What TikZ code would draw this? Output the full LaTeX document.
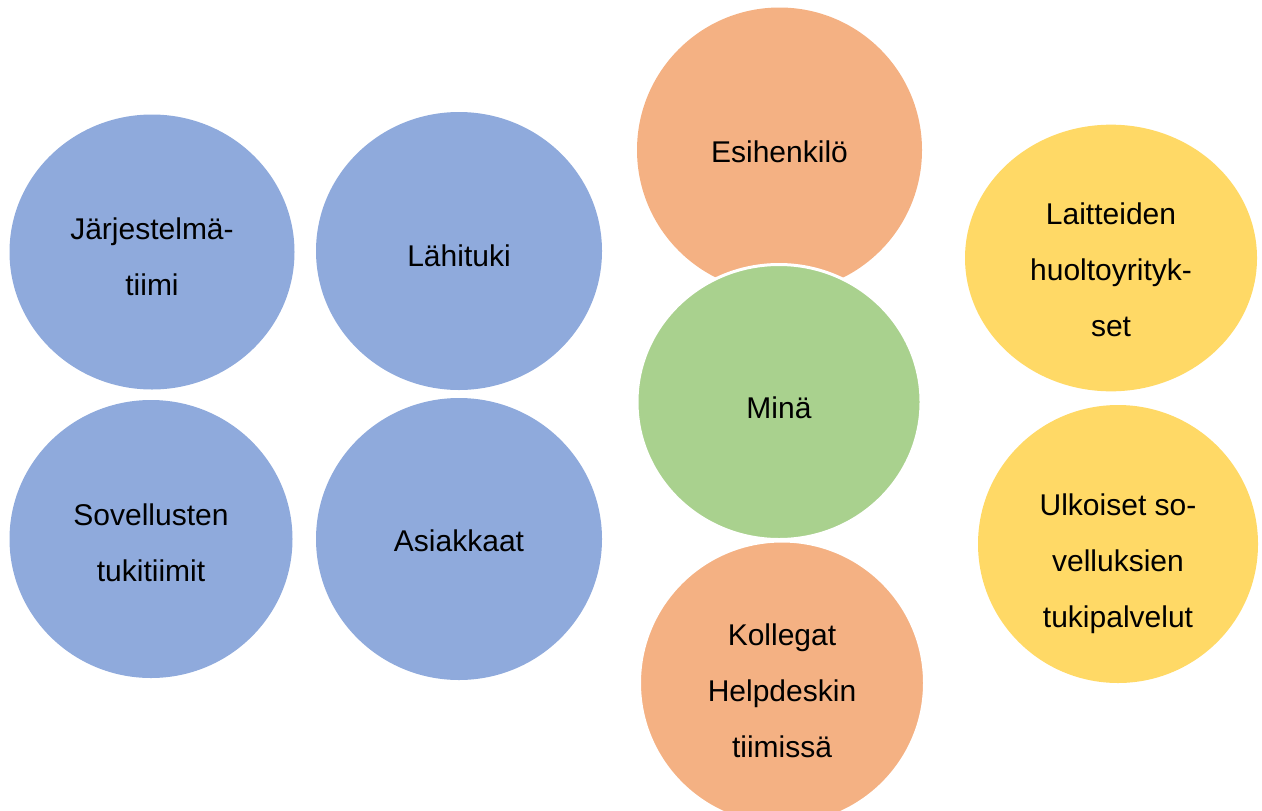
\documentclass[tikz,border=0pt]{standalone}
\usepackage{fontspec}
\setmainfont{Liberation Sans}
\usetikzlibrary{shapes.geometric}

\definecolor{blueball}{RGB}{143,170,220}
\definecolor{orangeball}{RGB}{244,177,131}
\definecolor{greenball}{RGB}{169,209,142}
\definecolor{yellowball}{RGB}{255,217,102}

\tikzset{
  every picture/.style={line width=0.75pt},
  ball/.style={ellipse, inner sep=0pt},
  cutball/.style={ball, draw=white, line width=2.25pt},
  balltext/.style={inner sep=0pt, align=center, text=black,
    font=\fontsize{22.5}{42}\selectfont}
}

\begin{document}
\begin{tikzpicture}[x=0.75pt,y=0.75pt,yscale=-1,xscale=1]
%set diagram area: 1262 x 810
\useasboundingbox (0,0) rectangle (1262,810);

%Blue circles
\node [ball, fill=blueball, minimum width=213.75pt, minimum height=206.25pt] (jarjestelma) at (152,252) {};
\node [ball, fill=blueball, minimum width=214.5pt, minimum height=208.5pt] (lahituki) at (459,251) {};
\node [ball, fill=blueball, minimum width=212.25pt, minimum height=208.5pt] (sovellusten) at (151,539) {};
\node [ball, fill=blueball, minimum width=214.5pt, minimum height=211.5pt] (asiakkaat) at (459,539) {};

%Middle column
\node [ball, fill=orangeball, minimum width=213.75pt, minimum height=213.75pt] (esihenkilo) at (779.5,150) {};
\node [cutball, fill=greenball, minimum width=213pt, minimum height=206.25pt] (mina) at (779,402) {};
\node [cutball, fill=orangeball, minimum width=213.75pt, minimum height=213pt] (kollegat) at (782,683) {};

%Yellow circles
\node [ball, fill=yellowball, minimum width=219pt, minimum height=200pt] (laitteiden) at (1111,258) {};
\node [ball, fill=yellowball, minimum width=210pt, minimum height=208.5pt] (ulkoiset) at (1118,544) {};

% Text Nodes
\node [balltext, yshift=-3.75pt] (jarjestelma-text) at (jarjestelma) {Järjestelmä-\\tiimi};
\node [balltext, yshift=-3.75pt] (lahituki-text) at (lahituki) {Lähituki};
\node [balltext, yshift=-3pt] (sovellusten-text) at (sovellusten) {Sovellusten\\tukitiimit};
\node [balltext, yshift=-1.5pt] (asiakkaat-text) at (asiakkaat) {Asiakkaat};
\node [balltext, yshift=-1.5pt] (esihenkilo-text) at (esihenkilo) {Esihenkilö};
\node [balltext, yshift=-4.5pt] (mina-text) at (mina) {Minä};
\node [balltext, yshift=-6pt] (kollegat-text) at (kollegat) {Kollegat\\Helpdeskin\\tiimissä};
\node [balltext, yshift=-9pt] (laitteiden-text) at (laitteiden) {Laitteiden\\huoltoyrityk-\\set};
\node [balltext, yshift=-15pt] (ulkoiset-text) at (ulkoiset) {Ulkoiset so-\\velluksien\\tukipalvelut};

\end{tikzpicture}
\end{document}
